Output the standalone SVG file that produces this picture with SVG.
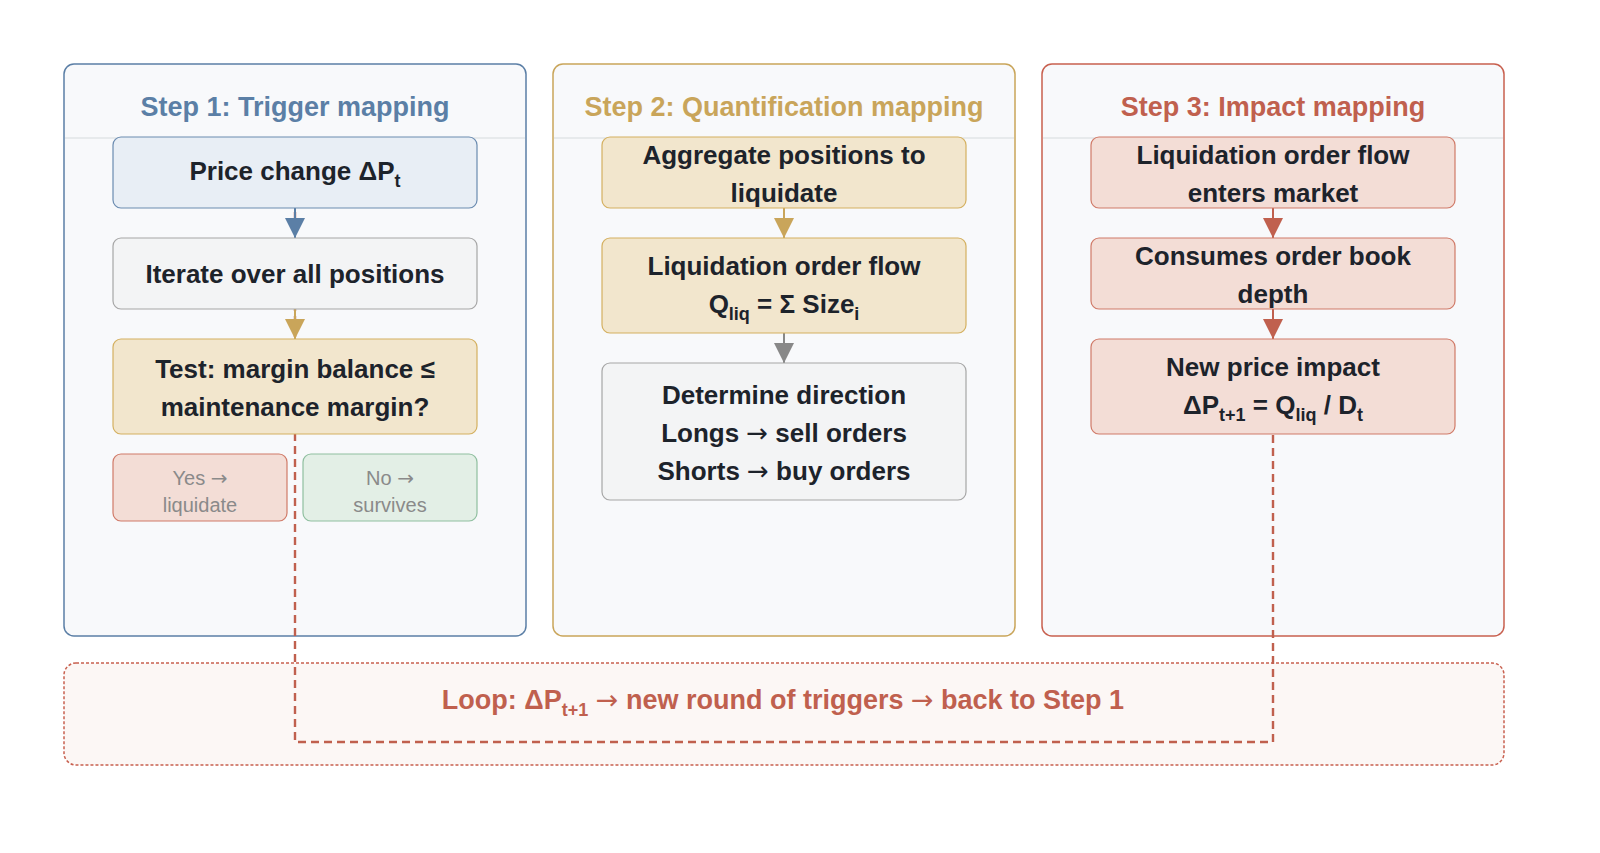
<svg xmlns="http://www.w3.org/2000/svg" width="1600" height="853" viewBox="0 0 1600 853">
<style>
text{font-family:"Liberation Sans",Arial,sans-serif;text-anchor:middle}
.title{font-size:27px;font-weight:bold}
.nt{font-size:26px;fill:#1d232b;font-weight:bold}
.small{font-size:20px;fill:#8a8a8a}
.sub{font-size:18px}
.arr{font-family:"DejaVu Sans",sans-serif;font-weight:normal}
.panel{fill:#f8f9fb;stroke-width:1.5}
.hdr{stroke:#e2e4e7;stroke-width:1.5}
.node{stroke-width:1.2}
</style>
<defs>
<marker id="ab" viewBox="0 0 10 10" refX="10" refY="5" markerWidth="20" markerHeight="20" markerUnits="userSpaceOnUse" orient="auto"><path d="M0,0L10,5L0,10z" fill="#5b7fa6"/></marker>
<marker id="ag" viewBox="0 0 10 10" refX="10" refY="5" markerWidth="20" markerHeight="20" markerUnits="userSpaceOnUse" orient="auto"><path d="M0,0L10,5L0,10z" fill="#c9a55a"/></marker>
<marker id="ay" viewBox="0 0 10 10" refX="10" refY="5" markerWidth="20" markerHeight="20" markerUnits="userSpaceOnUse" orient="auto"><path d="M0,0L10,5L0,10z" fill="#888888"/></marker>
<marker id="ar" viewBox="0 0 10 10" refX="10" refY="5" markerWidth="20" markerHeight="20" markerUnits="userSpaceOnUse" orient="auto"><path d="M0,0L10,5L0,10z" fill="#c0604e"/></marker>
</defs>
<rect width="1600" height="853" fill="#ffffff"/>

<g id="panel1">
<rect class="panel" x="64" y="64" width="462" height="572" rx="10" stroke="#5b7fa6"/>
<line class="hdr" x1="65" y1="138" x2="525" y2="138"/>
<text class="title" x="295" y="116" fill="#5b7fa6">Step 1: Trigger mapping</text>
</g>
<g id="panel2">
<rect class="panel" x="553" y="64" width="462" height="572" rx="10" stroke="#c9a55a"/>
<line class="hdr" x1="554" y1="138" x2="1014" y2="138"/>
<text class="title" x="784" y="116" fill="#c9a55a">Step 2: Quantification mapping</text>
</g>
<g id="panel3">
<rect class="panel" x="1042" y="64" width="462" height="572" rx="10" stroke="#c8604f"/>
<line class="hdr" x1="1043" y1="138" x2="1503" y2="138"/>
<text class="title" x="1273" y="116" fill="#c0604e">Step 3: Impact mapping</text>
</g>

<g id="loop">
<rect x="64" y="663" width="1440" height="102" rx="12" fill="#fcf7f5" stroke="#c8604f" stroke-width="1.5" stroke-dasharray="3,2"/>
<text x="783" y="709" font-size="27" font-weight="bold" fill="#c0604e">Loop: ΔP<tspan class="sub" dy="7">t+1</tspan><tspan dy="-7"> </tspan><tspan class="arr">→</tspan> new round of triggers <tspan class="arr">→</tspan> back to Step 1</text>
</g>

<g id="connectors">
<path d="M1273,435V742H295V138" fill="none" stroke="#c0604e" stroke-width="2.4" stroke-dasharray="8,5"/>
<line x1="295" y1="208" x2="295" y2="238" stroke="#5b7fa6" stroke-width="2" marker-end="url(#ab)"/>
<line x1="295" y1="309" x2="295" y2="339" stroke="#c9a55a" stroke-width="2" marker-end="url(#ag)"/>
<line x1="784" y1="208" x2="784" y2="238" stroke="#c9a55a" stroke-width="2" marker-end="url(#ag)"/>
<line x1="784" y1="333" x2="784" y2="363" stroke="#888888" stroke-width="2" marker-end="url(#ay)"/>
<line x1="1273" y1="208" x2="1273" y2="238" stroke="#c0604e" stroke-width="2" marker-end="url(#ar)"/>
<line x1="1273" y1="309" x2="1273" y2="339" stroke="#c0604e" stroke-width="2" marker-end="url(#ar)"/>
</g>

<g id="n-price">
<rect class="node" x="113" y="137" width="364" height="71" rx="8" fill="#e8eef5" stroke="#6a8bb0"/>
<text class="nt" x="295" y="180">Price change ΔP<tspan class="sub" dy="7">t</tspan></text>
</g>
<g id="n-iterate">
<rect class="node" x="113" y="238" width="364" height="71" rx="8" fill="#f3f4f5" stroke="#a6a6a6"/>
<text class="nt" x="295" y="283">Iterate over all positions</text>
</g>
<g id="n-test">
<rect class="node" x="113" y="339" width="364" height="95" rx="8" fill="#f2e6cd" stroke="#d4b060"/>
<text class="nt" x="295" y="378">Test: margin balance ≤</text>
<text class="nt" x="295" y="416">maintenance margin?</text>
</g>
<g id="n-yes">
<rect class="node" x="113" y="454" width="174" height="67" rx="8" fill="#f3ddd6" stroke="#d07a68"/>
<text class="small" x="200" y="485">Yes <tspan class="arr">→</tspan></text>
<text class="small" x="200" y="512">liquidate</text>
</g>
<g id="n-no">
<rect class="node" x="303" y="454" width="174" height="67" rx="8" fill="#e3efe6" stroke="#8fbf9f"/>
<text class="small" x="390" y="485">No <tspan class="arr">→</tspan></text>
<text class="small" x="390" y="512">survives</text>
</g>

<g id="n-aggregate">
<rect class="node" x="602" y="137" width="364" height="71" rx="8" fill="#f2e6cd" stroke="#d4b060"/>
<text class="nt" x="784" y="164">Aggregate positions to</text>
<text class="nt" x="784" y="202">liquidate</text>
</g>
<g id="n-flow">
<rect class="node" x="602" y="238" width="364" height="95" rx="8" fill="#f2e6cd" stroke="#d4b060"/>
<text class="nt" x="784" y="275">Liquidation order flow</text>
<text class="nt" x="784" y="313">Q<tspan class="sub" dy="7">liq</tspan><tspan dy="-7"> = Σ Size</tspan><tspan class="sub" dy="7">i</tspan></text>
</g>
<g id="n-direction">
<rect class="node" x="602" y="363" width="364" height="137" rx="8" fill="#f3f4f5" stroke="#a6a6a6"/>
<text class="nt" x="784" y="404">Determine direction</text>
<text class="nt" x="784" y="442">Longs <tspan class="arr">→</tspan> sell orders</text>
<text class="nt" x="784" y="480">Shorts <tspan class="arr">→</tspan> buy orders</text>
</g>

<g id="n-enters">
<rect class="node" x="1091" y="137" width="364" height="71" rx="8" fill="#f3ddd6" stroke="#d07a68"/>
<text class="nt" x="1273" y="164">Liquidation order flow</text>
<text class="nt" x="1273" y="202">enters market</text>
</g>
<g id="n-consumes">
<rect class="node" x="1091" y="238" width="364" height="71" rx="8" fill="#f3ddd6" stroke="#d07a68"/>
<text class="nt" x="1273" y="265">Consumes order book</text>
<text class="nt" x="1273" y="303">depth</text>
</g>
<g id="n-impact">
<rect class="node" x="1091" y="339" width="364" height="95" rx="8" fill="#f3ddd6" stroke="#d07a68"/>
<text class="nt" x="1273" y="376">New price impact</text>
<text class="nt" x="1273" y="414">ΔP<tspan class="sub" dy="7">t+1</tspan><tspan dy="-7"> = Q</tspan><tspan class="sub" dy="7">liq</tspan><tspan dy="-7"> / D</tspan><tspan class="sub" dy="7">t</tspan></text>
</g>
</svg>
